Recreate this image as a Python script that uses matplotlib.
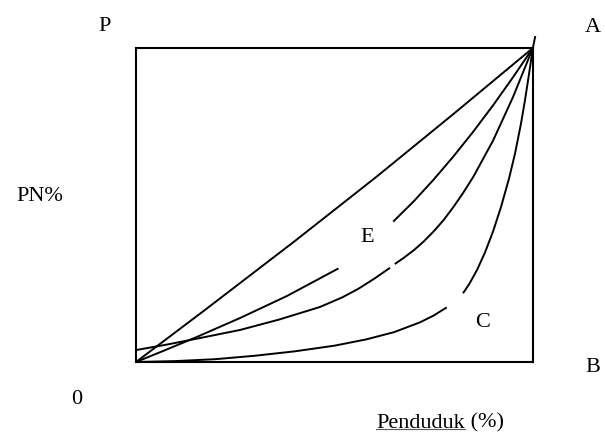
import numpy as np
import matplotlib.pyplot as plt

plt.rcParams['font.family'] = ['Liberation Serif', 'DejaVu Serif']

# values (box = 0..100 on both axes)
diag_x = [0, 17.4, 40, 60.6, 80, 100]
diag_y = [0, 16.6, 38.5, 59, 79, 100]

e_low_x = [0, 7, 15, 26.2, 38, 51]
e_low_y = [0, 3.6, 7.8, 14, 21, 29.8]
e_up_x = [64.8, 70, 75, 80, 85, 90, 95, 100]
e_up_y = [44.7, 51.2, 58.1, 65.5, 73.4, 81.8, 90.7, 100]

m_low_x = [0, 8, 16, 26.2, 36, 46.3, 52, 56, 60, 64]
m_low_y = [3.8, 5.6, 7.6, 10.2, 13.5, 17.5, 20.6, 23.3, 26.5, 30.0]
m_up_x = [65.2, 67.5, 70, 72.5, 75, 77.5, 80, 82.5, 85, 90, 95, 100]
m_up_y = [31.2, 33.2, 35.6, 38.4, 41.6, 45.2, 49.4, 54.0, 59.0, 70.6, 84.4, 100]

c_low_x = [0, 10, 20, 30, 40, 50, 58, 65, 71.5, 75, 78.3]
c_low_y = [0, 0.3, 0.9, 2.0, 3.4, 5.2, 7.2, 9.5, 12.6, 14.8, 17.4]
c_up_x = [82.4, 84, 86, 88, 90, 92, 94, 95.5, 97, 98, 99, 100, 100.6]
c_up_y = [21.9, 24.9, 29.5, 35.1, 41.7, 49.5, 58.5, 66.4, 75.9, 83.3, 91.5, 100, 103.8]

fig = plt.figure(figsize=(6.05, 4.38), dpi=100)
ax = fig.add_axes([0.2248, 0.1735, 0.656, 0.7169])
ax.set_xlim(0, 100)
ax.set_ylim(0, 100)
ax.set_xticks([])
ax.set_yticks([])
for s in ax.spines.values():
    s.set_linewidth(1.5)

lw = 1.4
for xs, ys in [(diag_x, diag_y), (e_low_x, e_low_y), (e_up_x, e_up_y),
               (m_low_x, m_low_y), (m_up_x, m_up_y),
               (c_low_x, c_low_y), (c_up_x, c_up_y)]:
    ax.plot(xs, ys, color='black', linewidth=lw, clip_on=False,
            solid_capstyle='butt', solid_joinstyle='round')

fs = 16
ax.text(58.2, 39.8, 'E', fontsize=fs, ha='center', va='center')
ax.text(87.2, 12.7, 'C', fontsize=fs, ha='center', va='center')

fig.text(0.1736, 0.940, 'P', fontsize=fs, ha='center', va='center')
fig.text(0.980, 0.938, 'A', fontsize=fs, ha='center', va='center')
fig.text(0.066, 0.552, 'PN%', fontsize=fs, ha='center', va='center')
fig.text(0.127, 0.088, '0', fontsize=fs, ha='center', va='center')
fig.text(0.980, 0.162, 'B', fontsize=fs, ha='center', va='center')

t1 = fig.text(0.768, 0.034, 'Penduduk', fontsize=fs, ha='right', va='center')
t2 = fig.text(0.768, 0.034, ' (%)', fontsize=fs, ha='left', va='center')

fig.canvas.draw()
bb = t1.get_window_extent().transformed(fig.transFigure.inverted())
fig.add_artist(plt.Line2D([bb.x0, bb.x1], [bb.y0 + 0.008, bb.y0 + 0.008],
                          transform=fig.transFigure, color='#555555', linewidth=0.8))

fig.savefig('out.png', dpi=100)
